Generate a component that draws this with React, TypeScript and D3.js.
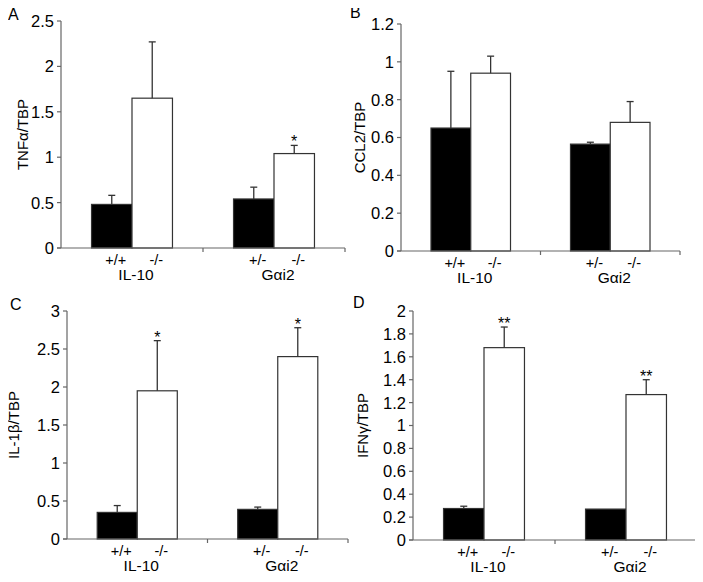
import * as d3 from "d3";

// ---- data ----
const groups = ["IL-10", "Gαi2"];
const genotypes = [
  ["+/+", "-/-"],
  ["+/-", "-/-"],
];

const tnfValues = [[0.48, 1.65], [0.54, 1.04]];
const tnfErrors = [[0.1, 0.62], [0.13, 0.09]];
const tnfStars = [["", ""], ["", "*"]];

const ccl2Values = [[0.65, 0.94], [0.565, 0.68]];
const ccl2Errors = [[0.3, 0.09], [0.01, 0.11]];
const ccl2Stars = [["", ""], ["", ""]];

const il1bValues = [[0.35, 1.95], [0.39, 2.4]];
const il1bErrors = [[0.09, 0.66], [0.03, 0.38]];
const il1bStars = [["", "*"], ["", "*"]];

const ifngValues = [[0.275, 1.68], [0.27, 1.27]];
const ifngErrors = [[0.02, 0.18], [0, 0.13]];
const ifngStars = [["", "**"], ["", "**"]];

// ---- layout ----
const W = 703;
const H = 582;
const font = "'Liberation Sans', Arial, sans-serif";
const axisColor = "#666";
const barStroke = "#333";

type Panel = {
  letter: string;
  yLabel: string;
  yMax: number;
  yStep: number;
  values: number[][];
  errors: number[][];
  stars: string[][];
  x0: number;
  x1: number;
  yTop: number;
  yBottom: number;
  letterX: number;
  letterY: number;
  yLabelX: number;
};

const panels: Panel[] = [
  { letter: "A", yLabel: "TNFα/TBP", yMax: 2.5, yStep: 0.5, values: tnfValues, errors: tnfErrors, stars: tnfStars,
    x0: 61, x1: 345, yTop: 21, yBottom: 248, letterX: 8, letterY: 20, yLabelX: 28 },
  { letter: "B", yLabel: "CCL2/TBP", yMax: 1.2, yStep: 0.2, values: ccl2Values, errors: ccl2Errors, stars: ccl2Stars,
    x0: 401, x1: 680, yTop: 24, yBottom: 251, letterX: 350, letterY: 18, yLabelX: 365 },
  { letter: "C", yLabel: "IL-1β/TBP", yMax: 3, yStep: 0.5, values: il1bValues, errors: il1bErrors, stars: il1bStars,
    x0: 67, x1: 348, yTop: 311, yBottom: 539, letterX: 10, letterY: 310, yLabelX: 19 },
  { letter: "D", yLabel: "IFNγ/TBP", yMax: 2, yStep: 0.2, values: ifngValues, errors: ifngErrors, stars: ifngStars,
    x0: 413, x1: 697, yTop: 311, yBottom: 540, letterX: 353, letterY: 308, yLabelX: 368 },
];

const fmt = (v: number) => String(+v.toFixed(1));

const BarPanel = ({ p }: { p: Panel }) => {
  const y = d3.scaleLinear().domain([0, p.yMax]).range([p.yBottom, p.yTop]);
  const xg = d3.scaleBand().domain(groups).range([p.x0, p.x1]).paddingInner(0.43).paddingOuter(0.215);
  const xi = d3.scaleBand().domain(["0", "1"]).range([0, xg.bandwidth()]);
  const ticks = d3.range(0, p.yMax + p.yStep / 2, p.yStep);
  const midX = (p.x0 + p.x1) / 2;

  return (
    <g>
      <text x={p.letterX} y={p.letterY} fontSize={16} fontFamily={font}>{p.letter}</text>
      <text
        transform={`translate(${p.yLabelX},${(p.yTop + p.yBottom) / 2}) rotate(-90)`}
        textAnchor="middle" fontSize={15} fontFamily={font}
      >{p.yLabel}</text>

      {/* y axis */}
      <line x1={p.x0} x2={p.x0} y1={p.yTop} y2={p.yBottom} stroke={axisColor} strokeWidth={1.2} />
      {ticks.map((t) => (
        <g key={t}>
          <line x1={p.x0 - 4} x2={p.x0} y1={y(t)} y2={y(t)} stroke={axisColor} strokeWidth={1.2} />
          <text x={p.x0 - 7} y={y(t)} dy="0.36em" textAnchor="end" fontSize={16.5} fontFamily={font}>{fmt(t)}</text>
        </g>
      ))}

      {/* bars */}
      {groups.map((g, gi) => {
        const gx = xg(g)!;
        return (
          <g key={g}>
            {p.values[gi].map((v, bi) => {
              const bx = gx + xi(String(bi))!;
              const bw = xi.bandwidth();
              const cx = bx + bw / 2;
              const top = v + p.errors[gi][bi];
              return (
                <g key={bi}>
                  <rect x={bx} y={y(v)} width={bw} height={y(0) - y(v)}
                    fill={bi === 0 ? "#000" : "#fff"} stroke={barStroke} strokeWidth={1.2} />
                  {p.errors[gi][bi] > 0 && (
                    <>
                      <line x1={cx} x2={cx} y1={y(v)} y2={y(top)} stroke={barStroke} strokeWidth={1.3} />
                      <line x1={cx - 3.5} x2={cx + 3.5} y1={y(top)} y2={y(top)} stroke={barStroke} strokeWidth={1.3} />
                    </>
                  )}
                  {p.stars[gi][bi] && (
                    <text x={cx} y={y(top) + 2} textAnchor="middle" fontSize={16} fontFamily={font}>{p.stars[gi][bi]}</text>
                  )}
                  <text x={cx + 4} y={p.yBottom + 16.5} textAnchor="middle" fontSize={14.5} fontFamily={font}>
                    {genotypes[gi][bi]}
                  </text>
                </g>
              );
            })}
            <text x={gx + xg.bandwidth() / 2 + 4} y={p.yBottom + 31.5} textAnchor="middle" fontSize={15.5} fontFamily={font}>{g}</text>
          </g>
        );
      })}

      {/* x axis */}
      <line x1={p.x0 - 4} x2={p.x1} y1={p.yBottom} y2={p.yBottom} stroke={axisColor} strokeWidth={1.2} />
      {[midX, p.x1].map((tx) => (
        <line key={tx} x1={tx} x2={tx} y1={p.yBottom} y2={p.yBottom + 4} stroke={axisColor} strokeWidth={1.2} />
      ))}
    </g>
  );
};

export default function App() {
  return (
    <svg width={W} height={H} style={{ display: "block", margin: "-8px", background: "#fff" }}>
      {panels.map((p) => (
        <BarPanel key={p.letter} p={p} />
      ))}
    </svg>
  );
}
